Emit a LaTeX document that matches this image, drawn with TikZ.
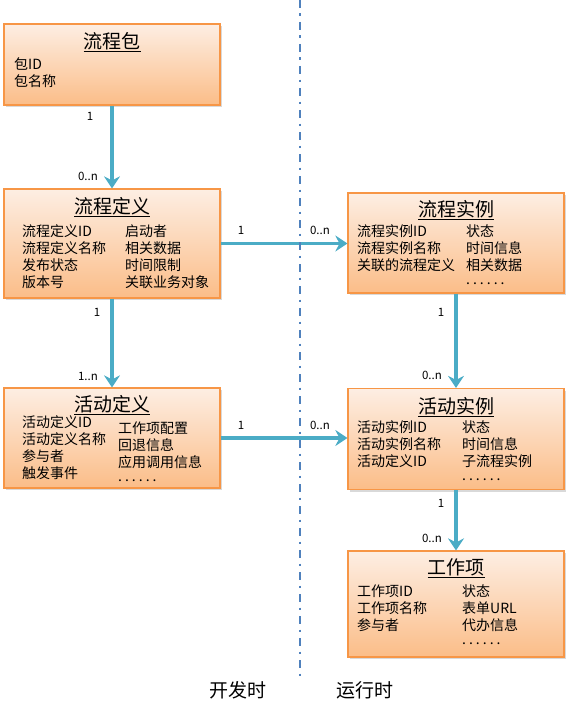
\documentclass[tikz,border=0pt]{standalone}
\usepackage{fontspec}
\setmainfont{Noto Sans CJK SC}
\usetikzlibrary{positioning,arrows.meta,shadows}
\definecolor{boxtop}{HTML}{FDEEE3}
\definecolor{boxbot}{HTML}{FBBD88}
\definecolor{boxline}{HTML}{F79646}
\definecolor{flowblue}{HTML}{4BACC6}
\definecolor{sepblue}{HTML}{4F81BD}
\tikzset{
  entity/.style={draw=boxline, line width=1.2pt, top color=boxtop, bottom color=boxbot,
    inner sep=0pt, drop shadow={shadow xshift=2pt, shadow yshift=-2pt, opacity=0.3}},
  entitytitle/.style={inner sep=0pt, font=\fontsize{19}{19}\selectfont},
  field/.style={anchor=west, inner sep=0pt, text height=0.88em, text depth=0.12em,
    font=\fontsize{14}{17}\selectfont},
  flow/.style={draw=flowblue, line width=3.5pt, -{Stealth[length=12pt,width=16pt,inset=4pt]}},
  mult/.style={inner sep=0pt, font=\fontsize{11.5}{12}\selectfont},
  phase/.style={inner sep=0pt, font=\fontsize{19}{19}\selectfont},
  phaseline/.style={draw=sepblue, line width=2.5pt, dash pattern=on 8pt off 5.5pt on 2.5pt off 6pt}
}
% box: #1 name, #2 centre x, #3 centre y, #4 height, #5 title, #6 title y
\newcommand{\entity}[6]{
  \node[entity, minimum width=216pt, minimum height=#4pt] (#1) at (#2,#3) {};
  \node[entitytitle] (#1-title) at (#2,#6) {\underline{#5}};
}
% one column of fields: #1 prefix, #2 x, #3 y of first line, #4 list
\newcommand{\fields}[4]{
  \foreach \txt [count=\i] in {#4}
    \node[field] (#1-\i) at (#2,{#3+17*(\i-1)}) {\txt};
}
\newcommand{\moredots}{\raisebox{3.5pt}{.\kern3pt.\kern3pt.\kern3pt.\kern3pt.\kern3pt.}}

\begin{document}
\begin{tikzpicture}[x=1pt,y=-1pt]
\useasboundingbox (0,0) rectangle (573,701);
% design time (left)
\entity{pkg}{112}{64.5}{81}{流程包}{42}
\fields{pkg-l}{14}{66}{包ID,包名称}
\entity{procdef}{112}{243.5}{109}{流程定义}{207}
\fields{procdef-l}{22}{233}{流程定义ID,流程定义名称,发布状态,版本号}
\fields{procdef-r}{125}{233}{启动者,相关数据,时间限制,关联业务对象}
\entity{actdef}{112}{438}{100}{活动定义}{405}
\fields{actdef-l}{22}{424}{活动定义ID,活动定义名称,参与者,触发事件}
\fields{actdef-r}{118}{430}{工作项配置,回退信息,应用调用信息,\moredots}
% run time (right)
\entity{procinst}{456}{243}{100}{流程实例}{210}
\fields{procinst-l}{357}{233}{流程实例ID,流程实例名称,关联的流程定义}
\fields{procinst-r}{466}{233}{状态,时间信息,相关数据,\moredots}
\entity{actinst}{456}{439}{101}{活动实例}{407}
\fields{actinst-l}{357}{429}{活动实例ID,活动实例名称,活动定义ID}
\fields{actinst-r}{462}{429}{状态,时间信息,子流程实例,\moredots}
\entity{workitem}{456}{604}{106}{工作项}{568}
\fields{workitem-l}{357}{593}{工作项ID,工作项名称,参与者}
\fields{workitem-r}{462}{593}{状态,表单URL,代办信息,\moredots}
% relations
\draw[flow] (pkg) -- (procdef);
\draw[flow] (procdef) -- (actdef);
\draw[flow] (procdef.east) -- (procdef.east -| procinst.west);
\draw[flow] (actdef.east) -- (actdef.east -| actinst.west);
\draw[flow] (procinst) -- (actinst);
\draw[flow] (actinst) -- (workitem);
\node[mult] (m1) at (90,116) {1};
\node[mult] (m2) at (88,176) {0..n};
\node[mult] (m3) at (97,312) {1};
\node[mult] (m4) at (88,376) {1..n};
\node[mult] (m5) at (241,230) {1};
\node[mult] (m6) at (320,230) {0..n};
\node[mult] (m7) at (241,425) {1};
\node[mult] (m8) at (320,425) {0..n};
\node[mult] (m9) at (441,312) {1};
\node[mult] (m10) at (432,375) {0..n};
\node[mult] (m11) at (441,503) {1};
\node[mult] (m12) at (432,538) {0..n};
% design time / run time
\draw[phaseline] (300,0) -- (300,677);
\node[phase] (dev) at (238,690) {开发时};
\node[phase] (run) at (365,690) {运行时};
\end{tikzpicture}
\end{document}
